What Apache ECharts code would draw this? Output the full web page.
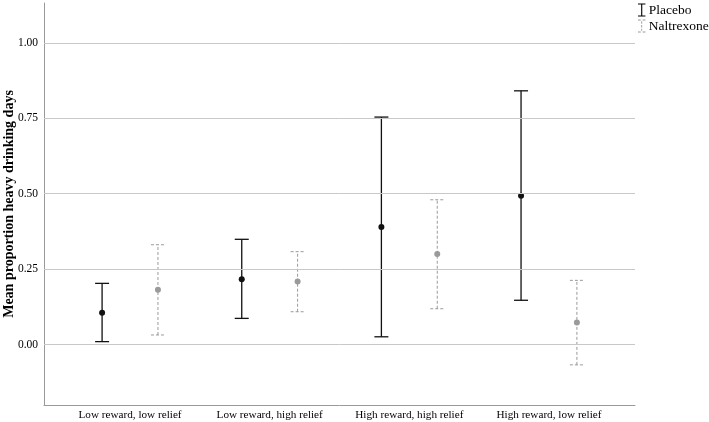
<!DOCTYPE html>
<html><head><meta charset="utf-8">
<script src="https://cdn.jsdelivr.net/npm/echarts@6/dist/echarts.min.js"></script>
<style>html,body{margin:0;padding:0;background:#fff}#c{width:709px;height:422px}</style>
</head><body><div id="c"></div>
<script>
const categories = ['Low reward, low relief', 'Low reward, high relief', 'High reward, high relief', 'High reward, low relief'];
const placeboMean = [0.106, 0.217, 0.390, 0.493];
const placeboLow = [0.010, 0.087, 0.026, 0.147];
const placeboHigh = [0.203, 0.349, 0.754, 0.841];
const naltrexoneMean = [0.182, 0.209, 0.300, 0.073];
const naltrexoneLow = [0.032, 0.109, 0.119, -0.067];
const naltrexoneHigh = [0.331, 0.308, 0.480, 0.213];
const yTicks = [0, 0.25, 0.5, 0.75, 1.0];
const seriesNames = ['Placebo', 'Naltrexone'];

const FONT = '"Liberation Serif", "Times New Roman", serif';
const OFFSET = 0.2;

function mkData(mean, low, high, off) {
  return mean.map((m, i) => [i + 1 + off, m, low[i], high[i]]);
}

function mkRender(color, dashed) {
  return function (params, api) {
    const x = api.value(0);
    const pm = api.coord([x, api.value(1)]);
    const pl = api.coord([x, api.value(2)]);
    const ph = api.coord([x, api.value(3)]);
    const cap = 7;
    const ls = {stroke: color, lineWidth: dashed ? 1 : 1.3, lineDash: dashed ? [3, 2] : null};
    return {
      type: 'group',
      children: [
        {type: 'line', shape: {x1: pl[0], y1: pl[1], x2: ph[0], y2: ph[1]}, style: ls},
        {type: 'line', shape: {x1: ph[0] - cap, y1: ph[1], x2: ph[0] + cap, y2: ph[1]}, style: ls},
        {type: 'line', shape: {x1: pl[0] - cap, y1: pl[1], x2: pl[0] + cap, y2: pl[1]}, style: ls},
        {type: 'circle', shape: {cx: pm[0], cy: pm[1], r: 3}, style: {fill: color}}
      ]
    };
  };
}

const iconSolid = 'path://M0,0 L8,0 L8,1.2 L4.6,1.2 L4.6,12.8 L8,12.8 L8,14 L0,14 L0,12.8 L3.4,12.8 L3.4,1.2 L0,1.2 Z';
const iconDashed = 'path://M0,0 L3,0 L3,1 L0,1 Z M5,0 L8,0 L8,1 L5,1 Z M3.5,2 L4.5,2 L4.5,4.5 L3.5,4.5 Z M3.5,6 L4.5,6 L4.5,8.5 L3.5,8.5 Z M3.5,10 L4.5,10 L4.5,12 L3.5,12 Z M0,13 L3,13 L3,14 L0,14 Z M5,13 L8,13 L8,14 L5,14 Z';

const chart = echarts.init(document.getElementById('c'), null, {renderer: 'canvas'});
chart.setOption({
  animation: false,
  backgroundColor: '#fff',
  grid: {left: 44, right: 74, top: 3, bottom: 17, containLabel: false, outerBoundsMode: 'none'},
  legend: {
    orient: 'vertical', left: 633, top: -2, itemWidth: 8, itemHeight: 13, itemGap: 2,
    textStyle: {fontFamily: FONT, fontSize: 13.5, color: '#000', padding: [0, 0, 0, -2]},
    data: [{name: seriesNames[0], icon: iconSolid}, {name: seriesNames[1], icon: iconDashed}]
  },
  xAxis: {
    type: 'value', min: 0.384, max: 4.616,
    axisLine: {show: true, onZero: false, lineStyle: {color: '#999', width: 1}},
    axisTick: {show: false},
    splitLine: {show: false},
    axisLabel: {
      customValues: [1, 2, 3, 4],
      formatter: v => categories[Math.round(v) - 1] || '',
      fontFamily: FONT, fontSize: 11.2, color: '#000', margin: 5
    }
  },
  yAxis: {
    type: 'value', min: -0.2, max: 1.132,
    name: 'Mean proportion heavy drinking days',
    nameLocation: 'middle', nameGap: 28, nameMoveOverlap: false,
    nameTextStyle: {fontFamily: FONT, fontSize: 14, fontWeight: 'bold', color: '#000'},
    axisLine: {show: true, onZero: false, lineStyle: {color: '#999', width: 1}},
    axisTick: {show: false},
    splitLine: {show: false},
    axisLabel: {
      customValues: yTicks,
      formatter: v => v.toFixed(2),
      fontFamily: FONT, fontSize: 11.5, color: '#000', margin: 6
    }
  },
  series: [
    {
      name: seriesNames[0], type: 'custom', color: '#000',
      renderItem: mkRender('#111', false),
      encode: {x: 0, y: [1, 2, 3]},
      data: mkData(placeboMean, placeboLow, placeboHigh, -OFFSET),
      markLine: {
        silent: true, symbol: 'none', label: {show: false},
        lineStyle: {color: '#c8c8c8', type: 'solid', width: 1},
        data: yTicks.map(v => ({yAxis: v}))
      },
      z: 3
    },
    {
      name: seriesNames[1], type: 'custom', color: '#9a9a9a',
      renderItem: mkRender('#9a9a9a', true),
      encode: {x: 0, y: [1, 2, 3]},
      data: mkData(naltrexoneMean, naltrexoneLow, naltrexoneHigh, OFFSET),
      z: 3
    }
  ]
});
</script></body></html>
